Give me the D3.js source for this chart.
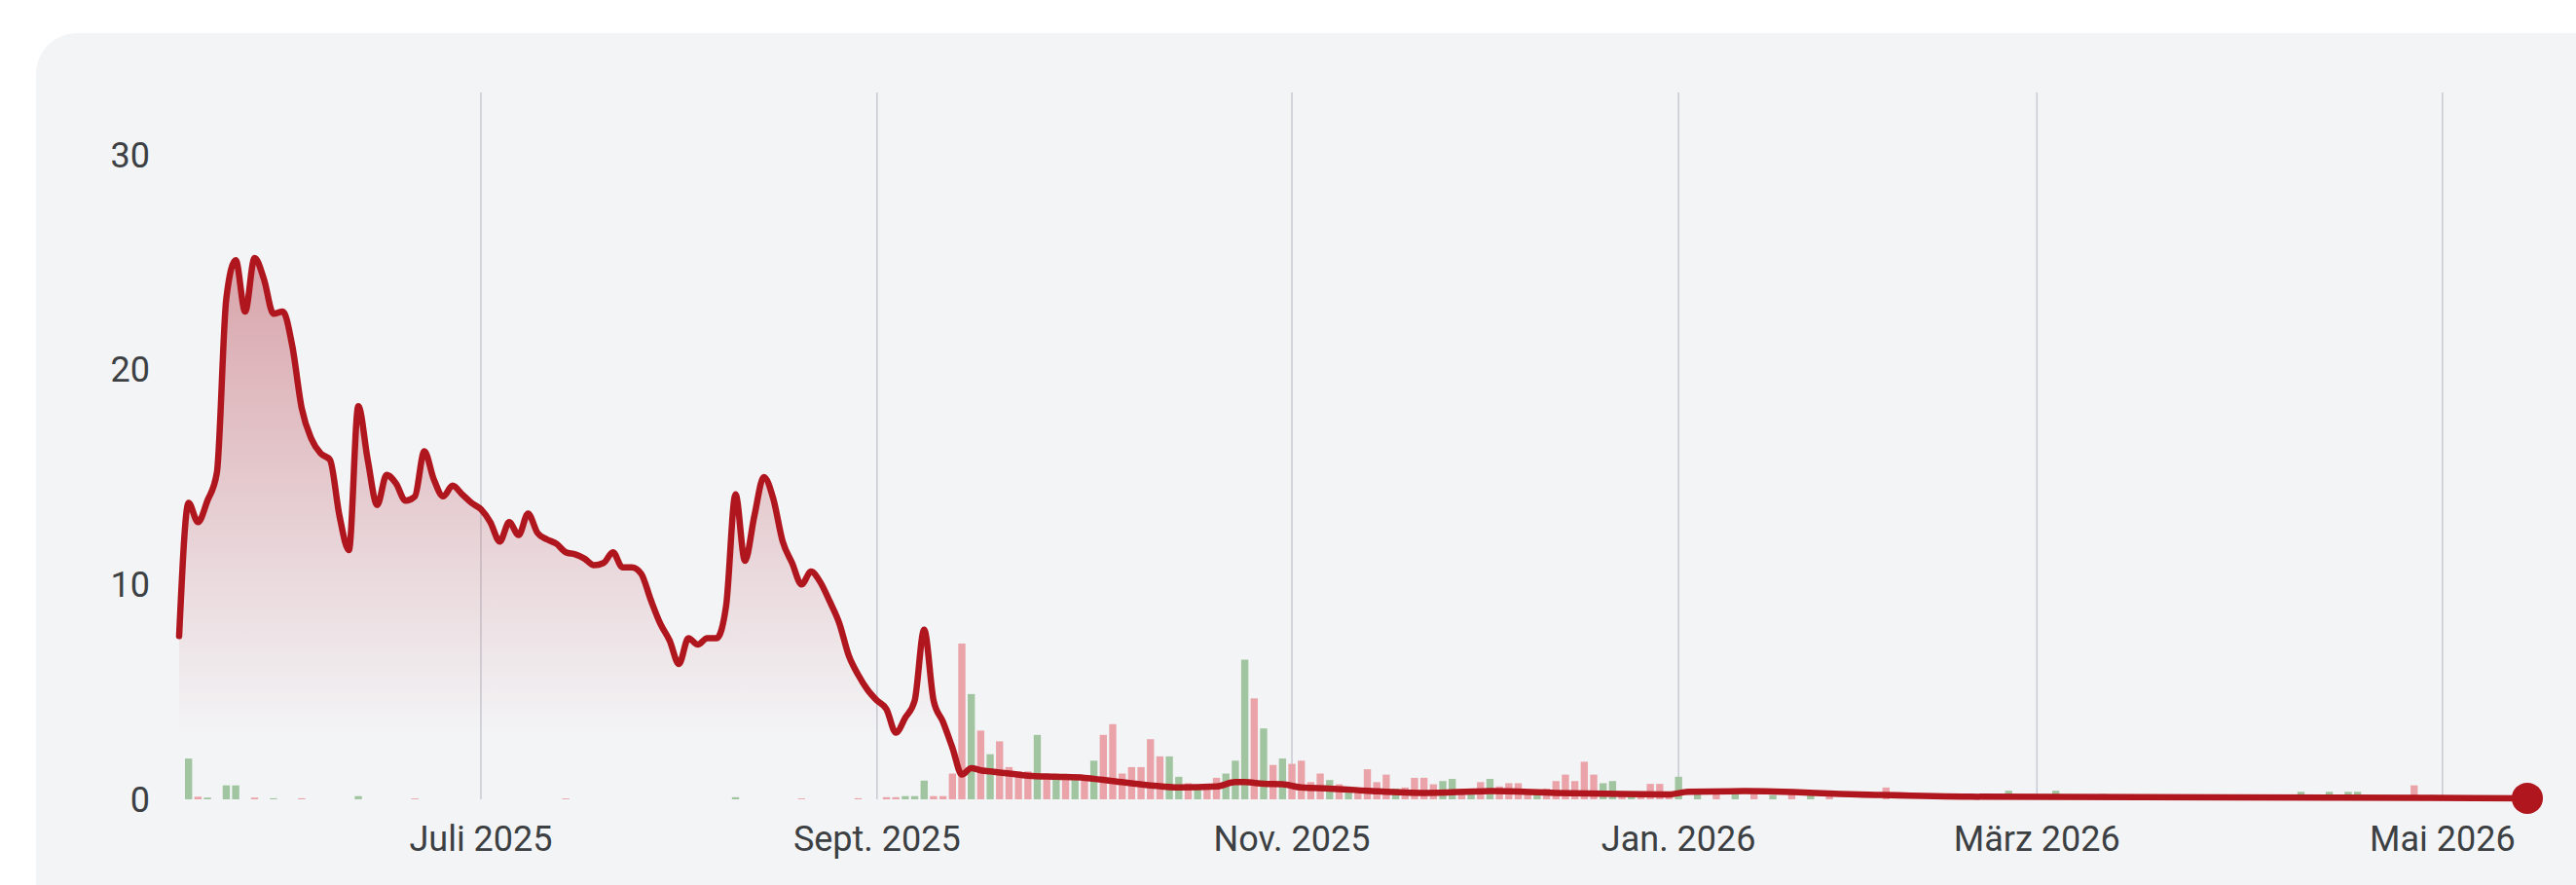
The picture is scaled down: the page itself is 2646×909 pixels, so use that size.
<!DOCTYPE html>
<html><head><meta charset="utf-8">
<script src="https://cdn.jsdelivr.net/npm/d3@7"></script>
<style>html,body{margin:0;padding:0;background:#fff;overflow:hidden} svg{display:block}</style>
</head><body>
<svg id="chart" width="2646" height="909"></svg>
<script>
// ---- data (index = sample slot along the time axis) ----
const lineIdx = [0,1,2,3,4,5,6,7,8,9,10,11,12,13,14,15,16,17,18,19,20,21,22,23,24,25,26,27,28,29,30,31,32,33,34,35,36,37,38,39,40,41,42,43,44,45,46,47,48,49,50,51,52,53,54,55,56,57,58,59,60,61,62,63,64,65,66,67,68,69,70,71,72,73,74,75,76,77,78,79,80,81,82,83,84,85,86,88,90,93,96,99,103,106,110,112,113,115,117,119,122,126,132,139,146,153,158,160,166,178,190,208,229,249];
const lineVal = [7.6,13.8,12.9,13.9,15.2,23.3,25.1,22.7,25.2,24.2,22.6,22.7,21.1,18.2,16.8,16.1,15.8,13.2,11.6,18.3,15.8,13.7,15.1,14.7,13.9,14.1,16.2,14.9,14.1,14.6,14.2,13.8,13.5,12.9,12.0,12.9,12.3,13.3,12.4,12.1,11.9,11.5,11.4,11.2,10.9,11.0,11.5,10.8,10.8,10.5,9.3,8.2,7.4,6.3,7.5,7.2,7.5,7.5,9.0,14.2,11.1,13.2,15.0,14.0,12.0,11.0,10.0,10.6,10.1,9.2,8.2,6.7,5.8,5.1,4.6,4.2,3.1,3.8,4.6,7.9,4.6,3.6,2.4,1.15,1.45,1.35,1.3,1.2,1.1,1.05,1.0,0.85,0.65,0.55,0.6,0.8,0.8,0.72,0.7,0.55,0.5,0.4,0.3,0.38,0.3,0.25,0.23,0.35,0.38,0.23,0.12,0.1,0.08,0.05];

const barIdx = [1,2,3,5,6,8,10,13,19,25,41,59,66,72,75,76,77,78,79,80,81,82,83,84,85,86,87,88,89,90,91,92,93,94,95,96,97,98,99,100,101,102,103,104,105,106,107,108,109,110,111,112,113,114,115,116,117,118,119,120,121,122,123,124,125,126,127,128,129,130,131,132,133,134,135,136,137,138,139,140,141,142,143,144,145,146,147,148,149,150,151,152,153,154,155,156,157,158,159,161,163,165,167,169,171,173,175,181,194,199,204,225,228,230,231,237,239];
const barVal = [1.9,0.12,0.08,0.65,0.65,0.08,0.05,0.05,0.15,0.04,0.04,0.1,0.04,0.05,0.1,0.1,0.15,0.15,0.87,0.15,0.15,1.2,7.25,4.9,3.2,2.1,2.7,1.5,1.3,1.3,3.0,1.1,1.05,1.0,0.9,1.0,1.8,3.0,3.5,1.2,1.5,1.5,2.8,2.0,2.0,1.05,0.75,0.45,0.45,1.0,1.2,1.8,6.5,4.7,3.3,1.6,1.9,1.65,1.8,0.8,1.2,0.9,0.7,0.6,0.55,1.4,0.8,1.15,0.5,0.55,1.0,1.0,0.7,0.85,0.95,0.45,0.4,0.8,0.95,0.6,0.75,0.75,0.4,0.35,0.5,0.85,1.15,0.85,1.75,1.15,0.75,0.85,0.35,0.3,0.3,0.72,0.72,0.3,1.05,0.3,0.25,0.3,0.25,0.2,0.25,0.2,0.2,0.55,0.4,0.4,0.25,0.35,0.35,0.35,0.35,0.65,0.2];
const barUp  = [1,0,1,1,1,0,1,0,1,0,0,1,0,0,0,0,1,1,1,0,0,0,0,1,0,1,0,0,0,0,1,0,1,0,1,0,1,0,0,0,0,0,0,0,1,1,0,1,0,0,1,1,1,0,1,0,1,0,0,0,0,1,0,1,0,0,0,0,1,0,0,0,0,1,1,0,1,0,1,0,0,0,0,1,0,0,0,0,0,0,1,1,0,1,0,0,0,0,1,1,0,1,0,1,0,1,0,0,1,1,1,1,1,1,1,0,1];

const tickIdx = [32, 74, 118, 159, 197, 240];
const tickLabels = ["Juli 2025","Sept. 2025","Nov. 2025","Jan. 2026","März 2026","Mai 2026"];
const yTicks = [0, 10, 20, 30];
const N = 250;

// ---- layout ----
const W = 2646, H = 909;
const svg = d3.select("#chart");
const x = d3.scaleLinear().domain([0, N - 1]).range([184, 2596]);
const y = d3.scaleLinear().domain([0, 30]).range([821, 159]);

const defs = svg.append("defs");
const grad = defs.append("linearGradient").attr("id","areaGrad")
  .attr("gradientUnits","userSpaceOnUse").attr("x1",0).attr("x2",0)
  .attr("y1", y(25)).attr("y2", y(3));
grad.append("stop").attr("offset","0%").attr("stop-color","#bf5c66").attr("stop-opacity",0.52);
grad.append("stop").attr("offset","100%").attr("stop-color","#bf5c66").attr("stop-opacity",0);

// card background
svg.append("rect").attr("x",37).attr("y",34).attr("width",W+100).attr("height",H+100)
  .attr("rx",42).attr("fill","#f3f4f6");

// vertical gridlines
svg.append("g").selectAll("line").data(tickIdx).join("line")
  .attr("x1", d => x(d)).attr("x2", d => x(d))
  .attr("y1", y(30) - 64).attr("y2", y(0))
  .attr("stroke","#c9cdd3").attr("stroke-width",1.6);

const pts = lineIdx.map((d, i) => ({i: d, v: lineVal[i]}));

// area
svg.append("path").datum(pts)
  .attr("d", d3.area().x(d => x(d.i)).y0(y(0)).y1(d => y(d.v)).curve(d3.curveMonotoneX))
  .attr("fill","url(#areaGrad)");

// bars
const bw = (x(1) - x(0)) * 0.76;
svg.append("g").selectAll("rect").data(barIdx.map((d,i)=>({i:d, v:barVal[i], up:barUp[i]}))).join("rect")
  .attr("x", d => x(d.i) - bw/2).attr("width", bw)
  .attr("y", d => y(d.v)).attr("height", d => y(0) - y(d.v))
  .attr("fill", d => d.up ? "#a2c5a1" : "#eaa4a9");

// line
svg.append("path").datum(pts)
  .attr("d", d3.line().x(d => x(d.i)).y(d => y(d.v)).curve(d3.curveMonotoneX))
  .attr("fill","none").attr("stroke","#b0161e").attr("stroke-width",6.5)
  .attr("stroke-linejoin","round").attr("stroke-linecap","round");

// end dot
const last = pts[pts.length - 1];
svg.append("circle").attr("cx", x(last.i)).attr("cy", y(last.v)).attr("r",16).attr("fill","#b0161e");

// y labels
svg.append("g").selectAll("text").data(yTicks).join("text")
  .attr("x",154).attr("y", d => y(d)).attr("dy","0.35em")
  .attr("text-anchor","end")
  .attr("font-family","Roboto, 'Noto Sans', sans-serif").attr("font-size",36)
  .attr("fill","#3c4043").text(d => d);

// x labels
svg.append("g").selectAll("text").data(tickIdx).join("text")
  .attr("x", d => x(d)).attr("y", 861).attr("dy","0.35em")
  .attr("text-anchor","middle")
  .attr("font-family","Roboto, 'Noto Sans', sans-serif").attr("font-size",36)
  .attr("fill","#3c4043").text((d,i) => tickLabels[i]);
</script>
</body></html>
